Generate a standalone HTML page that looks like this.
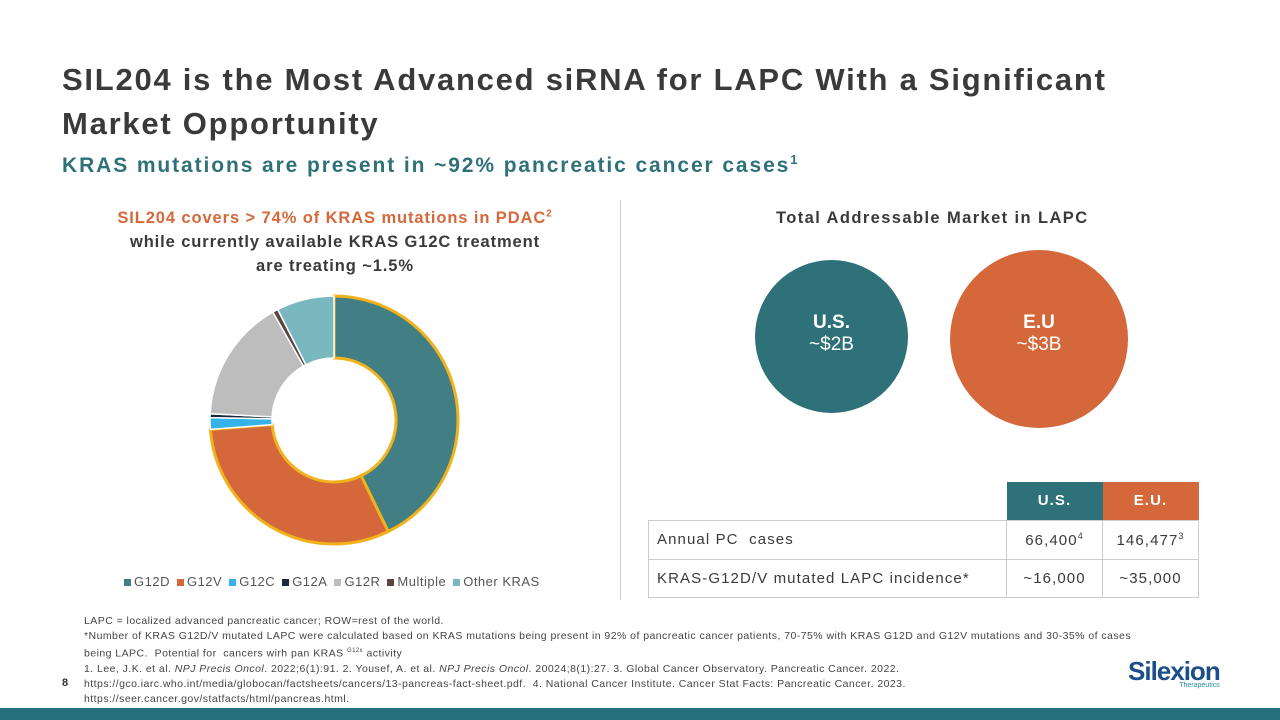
<!DOCTYPE html>
<html><head><meta charset="utf-8"><style>
body{margin:0;width:1280px;height:720px;position:relative;background:#fff;font-family:"Liberation Sans",sans-serif;overflow:hidden}
.a{position:absolute}
</style></head><body>
<div class="a" style="left:62px;top:58px;font-size:31px;font-weight:bold;color:#3a3a3a;line-height:44px;letter-spacing:1.75px">SIL204 is the Most Advanced siRNA for LAPC With a Significant<br>Market Opportunity</div>
<div class="a" style="left:62px;top:152px;font-size:21px;font-weight:bold;color:#2e7179;letter-spacing:1.9px">KRAS mutations are present in ~92% pancreatic cancer cases<sup style="font-size:13px">1</sup></div>
<div class="a" style="left:60px;top:202px;width:550px;text-align:center;font-size:16.5px;font-weight:bold;color:#3a3a3a;line-height:24px;letter-spacing:0.9px"><span style="color:#d4683a">SIL204 covers &gt; 74% of KRAS mutations in PDAC<sup style="font-size:10px">2</sup></span><br>while currently available KRAS G12C treatment<br>are treating ~1.5%</div>
<div class="a" style="left:620px;top:200px;width:1px;height:400px;background:#ccc"></div>
<svg class="a" style="left:0;top:0" width="640" height="600" id="chart"></svg>
<div class="a" style="left:124px;top:574px;font-size:13px;color:#555;letter-spacing:0.5px;white-space:nowrap" id="legend"></div>
<div class="a" style="left:776px;top:209px;font-size:16.5px;font-weight:bold;color:#3a3a3a;letter-spacing:1.4px">Total Addressable Market in LAPC</div>
<div class="a" style="left:755px;top:260px;width:153px;height:153px;border-radius:50%;background:#2e7179;color:#fff;text-align:center;font-size:19px"><div style="margin-top:52px;font-weight:bold">U.S.</div><div>~$2B</div></div>
<div class="a" style="left:950px;top:250px;width:178px;height:178px;border-radius:50%;background:#d4683a;color:#fff;text-align:center;font-size:19px"><div style="margin-top:62px;font-weight:bold">E.U</div><div>~$3B</div></div>
<table class="a" style="left:648px;top:482px;border-collapse:collapse;font-size:15px;color:#3a3a3a;letter-spacing:1.1px">
<tr style="height:38px"><td style="width:356px"></td><td style="width:94px;background:#2e7179;color:#fff;font-weight:bold;text-align:center">U.S.</td><td style="width:94px;background:#d4683a;color:#fff;font-weight:bold;text-align:center">E.U.</td></tr>
<tr style="height:39px"><td style="border:1px solid #ccc;padding-left:8px">Annual PC&nbsp; cases</td><td style="border:1px solid #ccc;text-align:center">66,400<sup style="font-size:9px">4</sup></td><td style="border:1px solid #ccc;text-align:center">146,477<sup style="font-size:9px">3</sup></td></tr>
<tr style="height:38px"><td style="border:1px solid #ccc;padding-left:8px;white-space:nowrap">KRAS-G12D/V mutated LAPC incidence*</td><td style="border:1px solid #ccc;text-align:center">~16,000</td><td style="border:1px solid #ccc;text-align:center">~35,000</td></tr>
</table>
<div class="a" style="left:84px;top:614px;font-size:10.5px;color:#444;line-height:15px;width:1100px;letter-spacing:0.45px;white-space:nowrap">LAPC = localized advanced pancreatic cancer; ROW=rest of the world.<br>*Number of KRAS G12D/V mutated LAPC were calculated based on KRAS mutations being present in 92% of pancreatic cancer patients, 70-75% with KRAS G12D and G12V mutations and 30-35% of cases<br>being LAPC.&nbsp; Potential for&nbsp; cancers wirh pan KRAS <sup style="font-size:6px">G12x</sup> activity<br>1. Lee, J.K. et al. <i>NPJ Precis Oncol</i>. 2022;6(1):91. 2. Yousef, A. et al. <i>NPJ Precis Oncol</i>. 20024;8(1):27. 3. Global Cancer Observatory. Pancreatic Cancer. 2022.<br>https://gco.iarc.who.int/media/globocan/factsheets/cancers/13-pancreas-fact-sheet.pdf.&nbsp; 4. National Cancer Institute. Cancer Stat Facts: Pancreatic Cancer. 2023.<br>https://seer.cancer.gov/statfacts/html/pancreas.html.</div>
<div class="a" style="left:62px;top:677px;font-size:11px;font-weight:bold;color:#333">8</div>
<div class="a" style="left:1128px;top:656px;color:#1c4f8a;font-size:26px;font-weight:bold;letter-spacing:-1px">Silexion<div style="font-size:7px;color:#2a8aa0;text-align:right;letter-spacing:0;font-weight:normal;margin-top:-5px">Therapeutics</div></div>
<div class="a" style="left:0;top:708px;width:1280px;height:12px;background:#256e7c"></div>
<script>
const categories=["G12D","G12V","G12C","G12A","G12R","Multiple","Other KRAS"];
const values=[42.8,31.0,1.5,0.5,16.0,0.7,7.5];
const colors=["#427f84","#d4683a","#35b2e8","#1a2a3a","#bdbdbd","#5a4540","#7ab8bf"];
const svg=document.getElementById('chart');const NS="http://www.w3.org/2000/svg";
const cx=334,cy=420,R=124,r=62;const total=values.reduce((a,b)=>a+b,0);
function pt(a,rad){return [cx+rad*Math.sin(a),cy-rad*Math.cos(a)];}
let a0=0;
values.forEach((v,i)=>{const a1=a0+v/total*2*Math.PI;const lg=(a1-a0)>Math.PI?1:0;
const p1=pt(a0,R),p2=pt(a1,R),p3=pt(a1,r),p4=pt(a0,r);
const p=document.createElementNS(NS,'path');
p.setAttribute('d',`M${p1}A${R},${R} 0 ${lg} 1 ${p2}L${p3}A${r},${r} 0 ${lg} 0 ${p4}Z`);
p.setAttribute('fill',colors[i]);
const hl=i<2;p.setAttribute('stroke',hl?'#f2b21b':'#fff');p.setAttribute('stroke-width',hl?3:1.5);


svg.appendChild(p);a0=a1;});
const lg=document.getElementById('legend');
categories.forEach((c,i)=>{const s=document.createElement('span');s.style.marginRight='7px';
s.innerHTML=`<span style="display:inline-block;width:7px;height:7px;background:${colors[i]};margin-right:3px"></span>${c}`;


lg.appendChild(s);});
</script>
</body></html>
